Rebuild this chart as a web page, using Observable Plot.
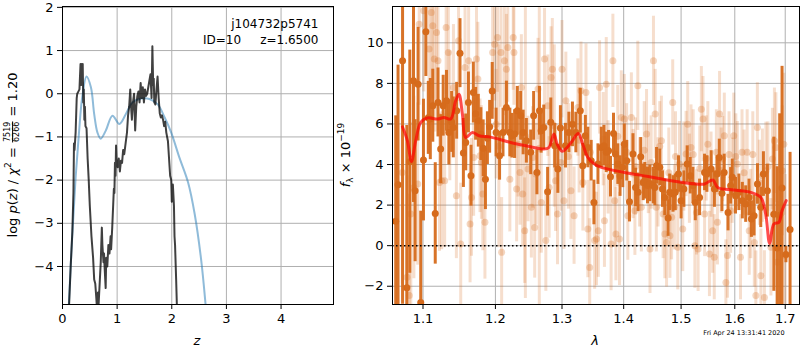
<!DOCTYPE html>
<html><head><meta charset="utf-8">
<script src="https://cdn.jsdelivr.net/npm/d3@7"></script>
<script src="https://cdn.jsdelivr.net/npm/@observablehq/plot@0.6"></script>
<style>
body{margin:0;background:#fff;font-family:"DejaVu Sans",sans-serif;}
#wrap{position:relative;width:800px;height:350px;overflow:hidden;background:#fff;}
.panel{position:absolute;top:0;}
.lbl{position:absolute;white-space:nowrap;font-size:13px;color:#000;line-height:1;font-family:"DejaVu Sans",sans-serif;}
.rot{transform:translate(-50%,-50%) rotate(-90deg);}
.ctr{transform:translate(-50%,-50%);}
.frac{display:inline-flex;flex-direction:column;vertical-align:middle;font-size:8px;line-height:1.05;text-align:center;margin:0 1px;}
.frac span:first-child{border-bottom:0.8px solid #000;}
sub,sup{font-size:9px;line-height:0;}
</style>
</head><body><div id="wrap"></div>
<script>
// ---- left panel: log p(z) ----
const smoothZ = [0.10,0.116,0.18,0.24,0.30,0.36,0.44,0.52,0.58,0.64,0.70,0.79,0.915,1.04,1.16,1.28,1.44,1.59,1.74,1.87,1.99,2.14,2.30,2.42,2.54,2.62,2.66];
const smoothLogP = [-5.6,-4.9,-3.25,-1.94,-0.93,-0.09,0.40,0.15,-0.47,-0.90,-1.04,-0.86,-0.51,-0.70,-0.47,-0.2,-0.11,-0.12,-0.24,-0.55,-0.90,-1.48,-2.06,-2.79,-3.87,-4.9,-5.5];
const fitZ = [0.10,0.12,0.15,0.18,0.20,0.21,0.22,0.24,0.26,0.27,0.29,0.31,0.32,0.33,0.34,0.35,0.36,0.37,0.38,0.39,0.40,0.41,0.42,0.44,0.46,0.48,0.50,0.53,0.56,0.58,0.60,0.62,0.63,0.65,0.66,0.68,0.70,0.72,0.73,0.75,0.76,0.77,0.79,0.80,0.82,0.84,0.86,0.88,0.89,0.91,0.93,0.94,0.95,0.96,0.97,0.98,0.99,1.01,1.03,1.05,1.07,1.09,1.11,1.13,1.16,1.18,1.20,1.22,1.24,1.25,1.27,1.29,1.31,1.33,1.35,1.37,1.39,1.41,1.43,1.45,1.47,1.49,1.51,1.53,1.55,1.57,1.59,1.61,1.63,1.645,1.66,1.67,1.68,1.70,1.72,1.74,1.76,1.78,1.80,1.82,1.84,1.86,1.88,1.90,1.93,1.95,1.97,1.99,2.00,2.02,2.04,2.05,2.06,2.08,2.10];
const fitLogP = [-5.2,-4.9,-4.0,-3.2,-2.3,-1.15,-1.3,-0.9,-0.1,0.0,0.05,0.1,0.4,0.69,0.2,0.69,0.3,0.69,-0.2,0.1,-0.6,-0.3,-0.75,-0.8,-1.5,-2.0,-2.6,-3.3,-3.8,-4.3,-4.4,-4.75,-4.95,-4.6,-4.9,-4.4,-3.9,-3.1,-3.5,-3.9,-3.7,-4.0,-4.5,-3.8,-4.0,-3.5,-3.7,-3.3,-3.6,-3.1,-2.5,-2.2,-2.3,-1.6,-1.9,-1.2,-1.55,-1.7,-1.5,-1.8,-1.55,-1.6,-1.3,-1.4,-1.1,-0.9,-0.5,-0.3,0.1,-0.2,-0.6,-0.2,0.0,-0.85,-0.3,-0.05,0.05,-0.2,0.25,-0.1,0.15,-0.2,0.1,-0.05,0.0,0.15,0.3,0.45,-0.1,1.1,0.2,0.35,-0.2,-0.25,0.1,0.4,-0.1,-0.45,-0.55,-0.5,-0.6,-0.75,-0.65,-0.9,-1.1,-1.5,-1.9,-2.0,-2.5,-2.1,-2.6,-3.3,-3.5,-4.3,-5.2];
const zTicks = [0,1,2,3,4];
const pTicks = [-4,-3,-2,-1,0,1,2];
const objName = "j104732p5741";
const objInfo = "ID=10\u00a0\u00a0\u00a0\u00a0\u00a0z=1.6500";

// ---- right panel: spectrum ----
const darkLam = [1.0645,1.0675,1.0733,1.0788,1.0827,1.0875,1.0896,1.0935,1.097,1.1006,1.1038,1.107,1.1097,1.113,1.1163,1.12,1.1236,1.127,1.1315,1.1347,1.1385,1.1408,1.1454,1.15,1.1547,1.158,1.1617,1.1653,1.1686,1.1718,1.1756,1.1792,1.1825,1.1857,1.1885,1.1917,1.1954,
 1.201,1.206,1.211,1.216,1.221,1.224,1.228,1.232,1.237,1.2407,1.2455,1.252,1.2564,1.2614,1.2653,1.2678,1.2718,1.2777,1.2826,1.2886,1.2935,1.2975,1.3054,1.3108,1.3164,1.3218,1.3289,1.3328,1.337,1.341,1.3464,1.3508,
 1.3574,1.3628,1.3672,1.371,1.3748,1.378,1.383,1.3862,1.3902,1.3939,1.3984,1.401,1.4052,1.4098,1.4157,1.4202,1.4244,1.429,1.4332,1.436,1.4407,1.4447,1.4506,1.4534,1.4564,1.4621,1.4668,1.4709,1.4768,1.4796,1.4855,1.4895,1.4953,1.5,1.505,1.511,1.5166,1.5215,1.5258,
 1.5337,1.5429,1.5473,1.5552,1.5613,1.5663,1.5705,1.5755,1.5797,1.5871,1.5921,1.5952,1.6014,1.6079,1.6146,1.6211,1.6276,1.6323,1.6375,1.6442,1.6507,1.656,1.6639,1.6769,1.6836,1.6887,1.6935,1.7014,1.7099];
const darkFlux = [1.2,3.0,9.11,-2.08,4.14,8.13,2.71,7.96,-2.8,4.22,10.54,6.3,6.24,6.9,1.59,7.06,4.76,6.9,7.14,5.58,6.1,5.83,6.65,9.49,4.57,5.09,7.06,3.45,7.55,6.5,6.16,5.5,4.8,3.28,5.3,5.86,7.63,
 5.58,4.43,5.58,6.81,5.58,5.42,5.5,6.65,6.4,5.58,5.17,4.6,6.4,3.61,6.65,5.66,5.83,2.66,6.08,4.93,3.78,5.8,4.93,5.58,5.98,5.58,6.65,3.94,5.42,4.84,4.19,2.13,
 4.02,4.84,4.93,4.6,4.68,3.4,5.53,4.52,4.02,3.43,3.86,5.0,4.19,2.17,4.52,2.87,2.63,4.38,3.12,3.2,2.96,3.07,2.96,2.87,3.94,3.86,2.79,2.38,1.36,2.63,2.55,2.63,3.53,2.22,2.79,4.02,3.45,2.96,2.13,
 2.38,3.61,3.53,3.78,2.79,3.53,4.35,2.58,3.61,1.63,2.95,3.37,2.46,2.63,2.22,2.05,2.38,1.31,1.48,3.04,1.89,3.53,2.71,1.55,-0.11,1.5,2.84,-0.44,0.8];
const darkErr = [5.2,5.9,12,8,5.5,6,3.5,2.8,4.5,3,2.2,1.8,2,1.8,2.5,1.7,1.7,1.5,1.5,1.6,1.5,1.5,1.4,1.7,1.7,1.4,1.5,1.5,1.5,1.3,1.3,1.3,1.4,1.5,1.3,1.3,1.4,
 1.2,1.2,1.2,1.3,1.2,1.1,1.2,1.2,1.2,1.1,1.1,1.1,1.2,1.1,1.2,1.1,1.1,1.2,1.2,1.1,1.2,1.1,1.1,1.0,1.1,1.0,1.1,1.1,1.0,1.0,1.0,1.1,
 1.0,1.0,1.0,1.0,1.0,1.0,1.0,1.0,1.0,1.0,1.0,1.0,1.0,1.0,1.0,0.95,0.95,0.95,0.9,0.9,0.9,0.9,0.9,0.9,0.9,0.9,0.9,0.9,0.9,0.9,0.9,0.9,0.9,0.9,0.9,0.9,0.9,0.9,0.9,
 0.9,0.9,0.9,0.9,0.9,0.9,0.9,0.9,0.9,0.9,0.9,0.9,0.9,0.9,0.9,0.9,0.9,0.9,1.0,1.0,1.0,1.1,1.3,3.8,4.0,5.0,6.0,0.4,3.8];

const lightLam = [1.073,1.079,1.082,1.084,1.088,1.093,1.095,1.101,1.108,1.111,1.113,1.115,1.118,1.120,1.122,1.125,1.129,1.131,1.134,1.136,1.141,1.145,1.148,1.151,1.157,1.162,1.164,1.166,1.169,1.173,1.175,1.178,1.180,1.182,1.185,1.196,1.199,1.201,1.203,1.208,1.209,1.213,1.216,1.218,1.221,1.226,1.227,1.231,1.233,1.236,1.238,1.240,1.243,1.248,1.253,1.255,1.258,1.260,1.263,1.268,1.273,1.275,1.278,1.280,1.283,1.285,1.290,1.293,1.298,1.300,1.303,1.306,1.314,1.319,1.325,1.330,1.333,1.338,1.341,1.344,1.352,1.355,1.358,1.360,1.366,1.368,1.371,1.374,1.379,1.382,1.385,1.387,1.393,1.396,1.401,1.407,1.413,1.416,1.419,1.424,1.427,1.430,1.439,1.442,1.445,1.451,1.454,1.456,1.459,1.465,1.468,1.471,1.474,1.480,1.483,1.485,1.488,1.494,1.497,1.503,1.509,1.512,1.518,1.525,1.528,1.531,1.537,1.540,1.543,1.549,1.552,1.558,1.561,1.567,1.571,1.577,1.580,1.583,1.586,1.592,1.598,1.605,1.611,1.614,1.624,1.628,1.631,1.638,1.641,1.644,1.651,1.654,1.658,1.661,1.671,1.674,1.678,1.681,1.684,1.694,1.697,1.700,
 1.205,1.244,1.265,1.288,1.310,1.327,1.345,1.390,1.405,1.420,1.435,1.447,1.462,1.478,1.490,1.505,1.515,1.522,1.534,1.546,1.555,1.565,1.574,1.589,1.595,1.602,1.618,1.635,1.648,1.665];
const lightFlux = [3.61,-1.56,-2.46,1.56,2.87,3.04,10.92,11.58,9.69,11.49,10.84,9.2,10.51,9.11,3.12,3.2,3.2,10.76,9.52,6.4,7.8,2.46,10.1,0.08,8.78,9.11,1.07,2.38,4.35,9.2,8.21,4.43,4.1,2.55,1.15,9.52,9.93,5.99,10.26,9.52,-0.33,9.11,8.7,9.77,3.28,10.26,9.52,2.79,5.0,3.61,7.8,2.55,0.74,3.78,1.89,4.35,0.9,3.53,7.72,2.13,9.2,0.25,6.9,2.87,8.29,8.7,3.2,1.56,4.1,8.7,2.22,7.14,2.71,1.48,6.81,7.64,3.12,7.55,0.82,-1.07,0.25,0.33,0.74,7.8,5.25,1.23,7.96,3.86,0.08,9.11,2.22,0.57,0.33,6.32,6.24,1.48,6.32,3.53,1.72,7.88,3.12,1.89,5.5,3.78,-0.16,9.11,6.49,1.89,3.12,5.17,1.56,0.57,0.16,0.49,1.4,7.06,1.89,-0.08,4.02,0.82,4.52,5.99,4.84,0.0,1.64,-0.16,6.73,6.24,1.56,5.0,-0.41,0.74,-0.57,1.15,6.49,4.27,5.42,-1.81,-0.49,1.72,5.42,4.02,-0.57,4.6,4.6,0.74,1.56,0.16,-2.46,5.83,-1.48,3.45,-2.55,3.69,-0.08,4.27,5.17,4.84,-0.82,3.69,5.0,-0.49,
 4.9,5.4,4.8,5.9,4.4,5.2,4.6,5.4,4.6,3.9,4.7,4.1,4.9,3.6,4.4,3.9,3.3,4.5,3.8,4.3,3.5,4.6,3.7,4.5,3.2,4.4,3.6,4.5,3.1,3.9];
const lightErr = [5.5,5.0,5.0,4.5,4.5,4.0,4.0,4.0,3.8,3.8,3.6,3.6,3.5,3.5,3.4,3.4,3.3,3.3,3.2,3.2,3.1,3.1,3.0,3.0,3.0,3.0,2.9,2.9,2.9,2.9,2.8,2.8,2.8,2.8,2.8,2.8,2.8,2.7,2.7,2.7,2.7,2.7,2.7,2.7,2.6,2.6,2.6,2.6,2.6,2.6,2.6,2.6,2.6,2.6,2.5,2.5,2.5,2.5,2.5,2.5,2.5,2.5,2.5,2.5,2.5,2.5,2.5,2.5,2.4,2.4,2.4,2.4,2.4,2.4,2.4,2.4,2.4,2.4,2.4,2.4,2.4,2.3,2.3,2.3,2.3,2.3,2.3,2.3,2.3,2.3,2.3,2.3,2.3,2.3,2.2,2.2,2.2,2.2,2.2,2.2,2.2,2.2,2.2,2.2,2.2,2.2,2.2,2.2,2.2,2.2,2.2,2.2,2.2,2.1,2.1,2.1,2.1,2.1,2.1,2.1,2.1,2.1,2.1,2.1,2.1,2.1,2.1,2.1,2.1,2.1,2.1,2.1,2.1,2.1,2.1,2.1,2.1,2.1,2.1,2.1,2.1,2.1,2.1,2.1,2.1,2.2,2.2,2.2,2.2,2.2,2.3,2.3,2.3,2.4,2.4,2.5,2.6,2.7,3.0,3.2,3.5,4.0,5.0,8.0,8.0,4.0,
 2.6,2.6,2.5,2.5,2.4,2.4,2.4,2.3,2.2,2.2,2.2,2.2,2.2,2.2,2.1,2.1,2.1,2.1,2.1,2.1,2.1,2.1,2.1,2.1,2.1,2.2,2.2,2.3,2.4,2.7];

const modelLam = [1.0731,1.0796,1.0848,1.0904,1.097,1.1061,1.1192,1.1281,1.1372,1.144,1.1486,1.1533,1.1579,1.1672,1.1765,1.1931,1.2221,1.2518,1.272,1.2797,1.2874,1.2926,1.3003,1.308,1.3164,1.3256,1.3328,1.341,1.3518,1.3628,1.401,1.4419,1.4825,1.5276,1.5429,1.5583,1.5675,1.598,1.631,1.6507,1.6605,1.6684,1.6769,1.6868,1.6935,1.702];
const modelFlux = [5.86,5.17,4.15,5.17,6.08,6.3,6.24,6.32,6.25,7.14,7.47,6.49,5.33,5.58,5.42,5.35,5.09,4.88,4.76,4.84,5.5,5.0,4.65,4.84,5.17,5.53,5.0,4.35,4.02,3.86,3.61,3.41,3.2,3.04,3.04,3.24,2.87,2.74,2.63,2.38,1.56,0.11,1.07,1.15,1.72,2.22];
const lamTicks = [1.1,1.2,1.3,1.4,1.5,1.6,1.7];
const fluxTicks = [-2,0,2,4,6,8,10];
const stamp = "Fri Apr 24 13:31:41 2020";

// ---- build ----
const minus = d => d < 0 ? "\u2212" + Math.abs(d) : String(d);
const grid = "#b0b0b0";
const orange = "#d66b1c";
const baseStyle = {fontFamily: "DejaVu Sans, sans-serif", fontSize: "13px", color: "#000", background: "transparent", overflow: "visible"};

const smooth = smoothZ.map((z, i) => ({z, v: smoothLogP[i]}));
const fit = fitZ.map((z, i) => ({z, v: fitLogP[i]}));

const leftPlot = Plot.plot({
  width: 340, height: 350,
  marginLeft: 62, marginRight: 7, marginTop: 6, marginBottom: 46,
  style: baseStyle,
  x: {domain: [0, 4.96], ticks: zTicks, tickSize: 5, tickPadding: 4, label: null, tickFormat: minus},
  y: {domain: [-4.88, 2.02], ticks: pTicks, tickSize: 5, tickPadding: 4, label: null, tickFormat: minus},
  marks: [
    Plot.ruleX(zTicks, {stroke: grid, strokeWidth: 1}),
    Plot.ruleY(pTicks, {stroke: grid, strokeWidth: 1}),
    Plot.line(smooth, {x: "z", y: "v", stroke: "#1f77b4", strokeOpacity: 0.5, strokeWidth: 2, curve: "catmull-rom", clip: true}),
    Plot.line(fit, {x: "z", y: "v", stroke: "#000", strokeOpacity: 0.75, strokeWidth: 2, clip: true}),
    Plot.frame({stroke: "#000", strokeWidth: 1}),
    Plot.text([objName], {frameAnchor: "top-right", textAnchor: "end", lineAnchor: "bottom", dx: -15, dy: 21.5, fontSize: 12, fill: "#000"}),
    Plot.text([objInfo], {frameAnchor: "top-right", textAnchor: "end", lineAnchor: "bottom", dx: -15, dy: 37.5, fontSize: 12, fill: "#000"})
  ]
});

const dark = darkLam.map((l, i) => ({l, f: darkFlux[i], e: darkErr[i]}));
const light = lightLam.map((l, i) => ({l, f: lightFlux[i], e: lightErr[i]}));
const model = modelLam.map((l, i) => ({l, f: modelFlux[i]}));

const rightPlot = Plot.plot({
  width: 460, height: 350,
  marginLeft: 52, marginRight: 1, marginTop: 6, marginBottom: 46,
  style: baseStyle,
  x: {type: "log", domain: [1.0604, 1.7294], ticks: lamTicks, tickFormat: d => d.toFixed(1), tickSize: 5, tickPadding: 4, label: null},
  y: {domain: [-2.9, 11.79], ticks: fluxTicks, tickSize: 5, tickPadding: 4, label: null, tickFormat: minus},
  marks: [
    Plot.ruleX(lamTicks, {stroke: grid, strokeWidth: 1}),
    Plot.ruleY(fluxTicks, {stroke: grid, strokeWidth: 1}),
    Plot.ruleX(light, {x: "l", y1: d => d.f - d.e, y2: d => d.f + d.e, stroke: orange, strokeOpacity: 0.22, strokeWidth: 3, clip: true}),
    Plot.dot(light, {x: "l", y: "f", r: 3.5, fill: orange, fillOpacity: 0.28, stroke: "none", clip: true}),
    Plot.ruleX(dark, {x: "l", y1: d => d.f - d.e, y2: d => d.f + d.e, stroke: orange, strokeOpacity: 0.95, strokeWidth: 3, clip: true}),
    Plot.dot(dark, {x: "l", y: "f", r: 3.5, fill: orange, stroke: "none", clip: true}),
    Plot.line(model, {x: "l", y: "f", stroke: "red", strokeOpacity: 0.7, strokeWidth: 3, curve: "catmull-rom", clip: true}),
    Plot.ruleY([0], {stroke: "#000", strokeWidth: 1.5, strokeDasharray: "1.5,2.5"}),
    Plot.frame({stroke: "#000", strokeWidth: 1})
  ]
});

const wrap = document.getElementById("wrap");
leftPlot.classList.add("panel"); leftPlot.style.left = "0px";
rightPlot.classList.add("panel"); rightPlot.style.left = "340px";
wrap.appendChild(leftPlot);
wrap.appendChild(rightPlot);

function addLabel(html, x, y, cls) {
  const d = document.createElement("div");
  d.className = "lbl " + cls;
  d.style.left = x + "px"; d.style.top = y + "px";
  d.innerHTML = html;
  wrap.appendChild(d);
  return d;
}
addLabel('log <i>p</i>(<i>z</i>) / <i>χ</i><sup>2</sup> = <span class="frac"><span>7519</span><span>6266</span></span> = 1.20', 13, 155, "rot");
addLabel('<i>f</i><sub>λ</sub> × 10<sup>−19</sup>', 345, 155, "rot");
addLabel('<i>z</i>', 197, 340, "ctr");
addLabel('<i>λ</i>', 595, 340, "ctr");
const s = addLabel(stamp, 744, 333, "ctr");
s.style.fontSize = "6.5px";
</script></body></html>
